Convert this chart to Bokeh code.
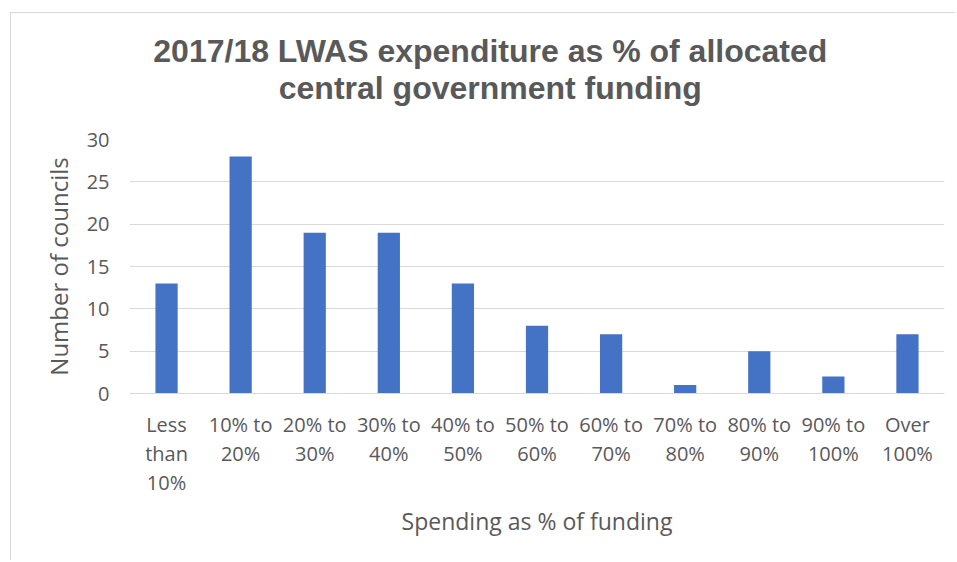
from bokeh.plotting import figure
from bokeh.models import Range1d, LinearAxis, FixedTicker
from bokeh.embed import file_html
from bokeh.resources import INLINE

# ---- data ----
categories = ["Less than 10%", "10% to 20%", "20% to 30%", "30% to 40%", "40% to 50%",
              "50% to 60%", "60% to 70%", "70% to 80%", "80% to 90%", "90% to 100%", "Over 100%"]
councils = [13, 28, 19, 19, 13, 8, 7, 1, 5, 2, 7]
label_line1 = ["Less", "10% to", "20% to", "30% to", "40% to", "50% to", "60% to",
               "70% to", "80% to", "90% to", "Over"]
label_line2 = ["than", "20%", "30%", "40%", "50%", "60%", "70%", "80%", "90%", "100%", "100%"]
label_line3 = ["10%", "", "", "", "", "", "", "", "", "", ""]
y_ticks = [0, 5, 10, 15, 20, 25, 30]
title_line1 = "2017/18 LWAS expenditure as % of allocated"
title_line2 = "central government funding"

TXT = "#595959"
GRID = "#d9d9d9"
FONT = "Open Sans"

positions = list(range(len(categories)))
# horizontal anchor of the (off-centre) chart title, in x-axis units
TITLE_X = 4.37

p = figure(x_range=Range1d(-0.5, len(categories) - 0.5), y_range=Range1d(0, 30),
           width=945, height=548, output_backend="svg", toolbar_location=None,
           min_border_left=118, min_border_right=12, min_border_top=126, min_border_bottom=168)
p.styles = {"border-top": "1px solid #d9d9d9", "border-left": "1px solid #d9d9d9",
            "margin-left": "10px", "margin-top": "12px"}
p.outline_line_color = None
p.background_fill_color = "white"

p.vbar(x=positions, top=councils, width=0.3, color="#4472C4", line_color=None)

# grid
p.xgrid.grid_line_color = None
p.ygrid.grid_line_color = GRID
p.ygrid.grid_line_width = 1

# y axis
ya = p.yaxis[0]
ya.ticker = FixedTicker(ticks=y_ticks)
ya.axis_line_color = None
ya.major_tick_line_color = None
ya.minor_tick_line_color = None
ya.major_tick_out = 0
ya.major_tick_in = 0
ya.major_label_standoff = 20
ya.major_label_text_font = FONT
ya.major_label_text_font_size = "20px"
ya.major_label_text_color = TXT
ya.axis_label = "Number of councils"
ya.axis_label_text_font = FONT
ya.axis_label_text_font_size = "24px"
ya.axis_label_text_font_style = "normal"
ya.axis_label_text_color = TXT
ya.axis_label_standoff = 9

def style_x(ax, ticks, labels, standoff, font=FONT, size="20px", style="normal"):
    ax.ticker = FixedTicker(ticks=ticks)
    ax.major_label_overrides = {pos: lab for pos, lab in zip(ticks, labels)}
    ax.major_tick_line_color = None
    ax.minor_tick_line_color = None
    ax.major_tick_out = 0
    ax.major_tick_in = 0
    ax.major_label_standoff = standoff
    ax.major_label_text_font = font
    ax.major_label_text_font_size = size
    ax.major_label_text_font_style = style
    ax.major_label_text_color = TXT
    ax.axis_line_color = None

xa1 = p.xaxis[0]
style_x(xa1, positions, label_line1, 17)
xa1.axis_line_color = GRID

xa2 = LinearAxis()
style_x(xa2, positions, label_line2, -1)
p.add_layout(xa2, "below")

xa3 = LinearAxis()
style_x(xa3, positions, label_line3, -1)
xa3.axis_label = "Spending as % of funding"
xa3.axis_label_text_font = FONT
xa3.axis_label_text_font_size = "23px"
xa3.axis_label_text_font_style = "normal"
xa3.axis_label_text_color = TXT
xa3.axis_label_standoff = 6
p.add_layout(xa3, "below")

# two-line chart title as stacked label rows above the plot (nearest first)
ta2 = LinearAxis()
style_x(ta2, [TITLE_X], [title_line2], 34, font="Liberation Sans", size="32px", style="bold")
p.add_layout(ta2, "above")
ta1 = LinearAxis()
style_x(ta1, [TITLE_X], [title_line1], -2, font="Liberation Sans", size="32px", style="bold")
p.add_layout(ta1, "above")

open("out.html", "w").write(file_html(p, INLINE))
